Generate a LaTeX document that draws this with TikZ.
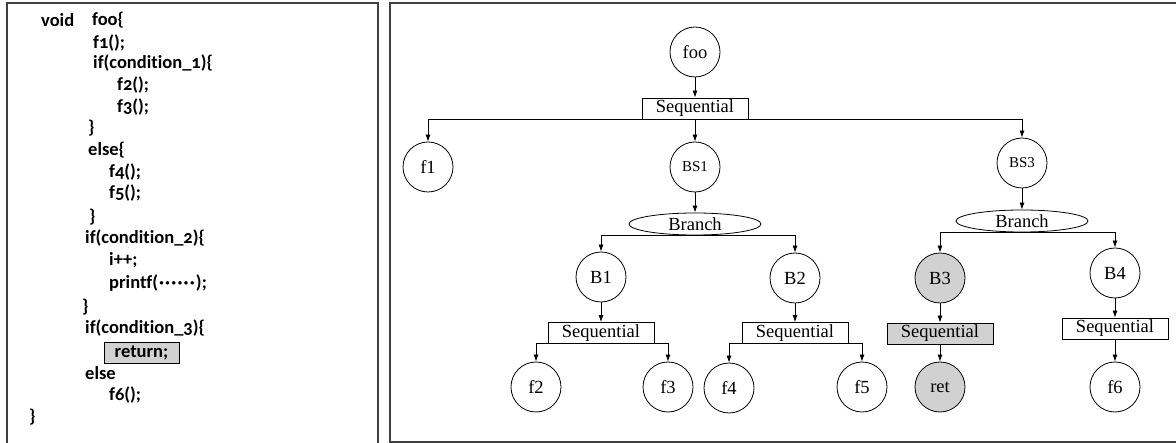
\documentclass[tikz,border=0pt]{standalone}
\usepackage{fontspec}
\setmainfont{Liberation Serif}
\newfontfamily\codefont{Carlito}[Numbers=OldStyle,Ligatures=NoCommon]
\usetikzlibrary{arrows.meta,shapes.geometric}
\newcommand\dotrow{\foreach \k in {1,...,6}{·\kern1.2pt}}

\begin{document}
\begin{tikzpicture}[
    x=1pt, y=-1pt,
    every node/.style={font=\fontsize{18.5}{22}\selectfont},
    func/.style={draw,circle,minimum size=50pt,inner sep=0pt,line width=0.8pt},
    small/.style={font=\fontsize{15}{17}\selectfont},
    hit/.style={fill=black!18},
    seqbox/.style={draw,rectangle,minimum width=106pt,minimum height=21pt,inner sep=0pt,line width=0.8pt},
    branch/.style={draw,ellipse,minimum width=132pt,minimum height=22pt,inner sep=0pt,line width=0.8pt},
    code/.style={anchor=west,inner sep=0pt,font=\codefont\bfseries\fontsize{18.5}{22}\selectfont},
    link/.style={-{Latex[length=7pt,width=5pt]},line width=0.8pt},
    panel/.style={line width=1.2pt,black!75}
  ]
    \useasboundingbox (0,0) rectangle (1176,443);

    % source code
    \begin{scope}
      \draw[panel] (7,443) -- (7,3) -- (378,3) -- (378,443);

      \node[code] (l1) at (41,20) {void};
      \node[code] (l1b) at (92,20) {foo\{};
      \node[code] (l2) at (93,43) {f1();};
      \node[code] (l3) at (93,63) {if(condition\_1)\{};
      \node[code] (l4) at (117,85) {f2();};
      \node[code] (l5) at (117,107) {f3();};
      \node[code] (l6) at (88,128) {\}};
      \node[code] (l7) at (88,150) {else\{};
      \node[code] (l8) at (109,172) {f4();};
      \node[code] (l9) at (109,193) {f5();};
      \node[code] (l10) at (89,217) {\}};
      \node[code] (l11) at (85,238) {if(condition\_2)\{};
      \node[code] (l12) at (109,260) {i++;};
      \node[code] (l13) at (109,283) {printf(\kern1pt\dotrow);};
      \node[code] (l14) at (82,307) {\}};
      \node[code] (l15) at (85,328) {if(condition\_3)\{};
      \node[code,anchor=center,draw,hit,minimum width=75pt,minimum height=21pt]
        (l16) at (141.5,352.5) {return;};
      \node[code] (l17) at (85,373) {else};
      \node[code] (l18) at (109,395) {f6();};
      \node[code] (l19) at (29,417) {\}};
    \end{scope}

    % tree
    \begin{scope}
      \draw[panel] (1176,3) -- (390,3) -- (390,442) -- (1176,442);

      \node[func] (foo) at (695,52) {foo};
      \node[seqbox] (seq) at (695,108.5) {Sequential};

      \node[func] (f1) at (428,167) {f1};
      \node[func,small] (bs1) at (695,167) {BS1};
      \node[func,small] (bs3) at (1022,163) {BS3};

      \node[branch] (br1) at (695,224) {Branch};
      \node[branch] (br3) at (1022,221) {Branch};

      \node[func] (b1) at (601,277) {B1};
      \node[func] (b2) at (795,278) {B2};
      \node[func,hit] (b3) at (940,278) {B3};
      \node[func] (b4) at (1115,273) {B4};

      \node[seqbox] (sq1) at (601,333) {Sequential};
      \node[seqbox] (sq2) at (795,333) {Sequential};
      \node[seqbox,hit] (sq3) at (940,333.5) {Sequential};
      \node[seqbox] (sq4) at (1115,328.5) {Sequential};

      \node[func] (f2) at (536,387) {f2};
      \node[func] (f3) at (668,387) {f3};
      \node[func] (f4) at (729,388) {f4};
      \node[func] (f5) at (862,387) {f5};
      \node[func,hit] (ret) at (940,387) {ret};
      \node[func] (f6) at (1115,387) {f6};

      \draw[link] (foo) -- (seq);
      \draw[link] (seq.south) -| (f1);
      \draw[link] (seq.south) -- (bs1);
      \draw[link] (seq.south) -| (bs3);

      \draw[link] (bs1) -- (br1);
      \draw[link] (bs3) -- (br3);

      \draw[link] (br1.south) -| (b1);
      \draw[link] (br1.south) -| (b2);
      \draw[link] (br3.south) -| (b3);
      \draw[link] (br3.south) -| (b4);

      \draw[link] (b1) -- (sq1);
      \draw[link] (b2) -- (sq2);
      \draw[link] (b3) -- (sq3);
      \draw[link] (b4) -- (sq4);

      \draw[link] (sq1.south) -| (f2);
      \draw[link] (sq1.south) -| (f3);
      \draw[link] (sq2.south) -| (f4);
      \draw[link] (sq2.south) -| (f5);
      \draw[link] (sq3) -- (ret);
      \draw[link] (sq4) -- (f6);
    \end{scope}
  \end{tikzpicture}
\end{document}
